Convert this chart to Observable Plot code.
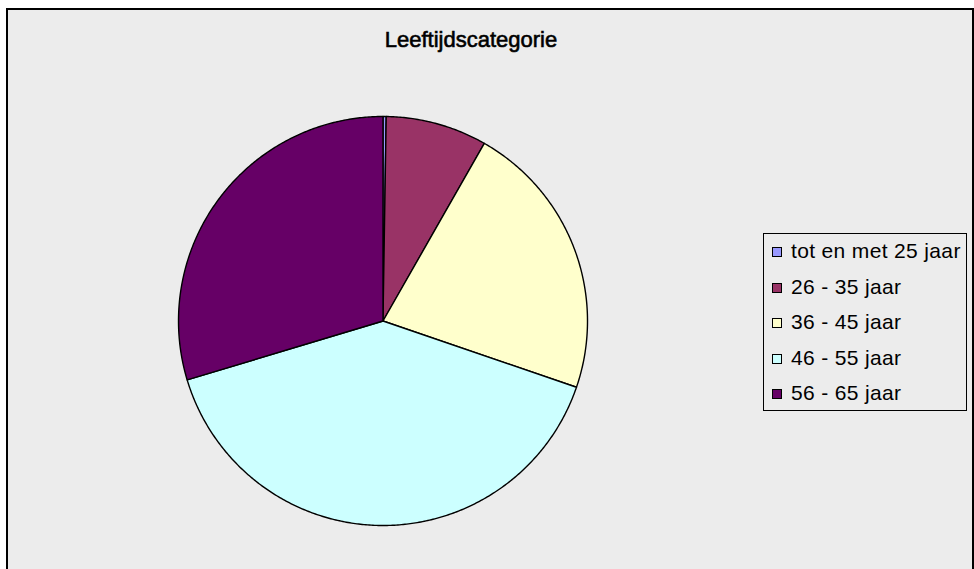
<!DOCTYPE html>
<html>
<head>
<meta charset="utf-8">
<script src="https://cdn.jsdelivr.net/npm/d3@7"></script>
<script src="https://cdn.jsdelivr.net/npm/@observablehq/plot@0.6"></script>
<style>
  html, body { margin: 0; padding: 0; background: #ffffff; width: 974px; height: 569px; overflow: hidden; }
  #frame { position: absolute; left: 6px; top: 8px; width: 968px; height: 600px; box-sizing: border-box;
           border: 2px solid #000; background: #ECECEC; }
  #title { position: absolute; left: 0; width: 942px; top: 27px; text-align: center;
           font-family: "Liberation Sans", Arial, sans-serif; font-weight: normal; font-size: 22px; color: #000;
           -webkit-text-stroke: 0.6px #000; }
  #chart { position: absolute; left: 0; top: 0; }
  #legend { position: absolute; left: 763px; top: 233px; width: 204px; height: 178px; box-sizing: border-box;
            border: 1px solid #000; background: #ECECEC;
            font-family: "Liberation Sans", Arial, sans-serif; font-size: 21px; letter-spacing: 0.35px; color: #000; }
  .row { position: absolute; left: 8px; height: 24px; line-height: 24px; white-space: nowrap; }
  .sw { display: inline-block; width: 10px; height: 10px; box-sizing: border-box; border: 1px solid #000;
        margin-right: 9px; vertical-align: 1px; }
</style>
</head>
<body>
<div id="frame"></div>
<div id="title">Leeftijdscategorie</div>
<div id="chart"></div>
<div id="legend"></div>
<script>
const categories = ["tot en met 25 jaar", "26 - 35 jaar", "36 - 45 jaar", "46 - 55 jaar", "56 - 65 jaar"];
const values = [0.25, 8.0, 22.0, 40.1, 29.65];
const colors = ["#9999FF", "#993366", "#FFFFCC", "#CCFFFF", "#660066"];

const cx = 382.5, cy = 320.5, r = 204.5;

const arcs = d3.pie().sort(null).startAngle(0).endAngle(2 * Math.PI)(values);
const pts = [];
arcs.forEach((a, i) => {
  const cat = categories[i];
  pts.push({cat, x: 0, y: 0});
  const n = Math.max(2, Math.ceil((a.endAngle - a.startAngle) / (Math.PI / 360)));
  for (let k = 0; k <= n; k++) {
    const t = a.startAngle + (a.endAngle - a.startAngle) * k / n;
    pts.push({cat, x: Math.sin(t), y: Math.cos(t)});
  }
});

const chart = Plot.plot({
  width: 974,
  height: 569,
  margin: 0,
  style: {background: "transparent"},
  x: {domain: [-1, 1], range: [cx - r, cx + r], axis: null},
  y: {domain: [-1, 1], range: [cy + r, cy - r], axis: null},
  color: {domain: categories, range: colors},
  marks: [
    Plot.line(pts, {x: "x", y: "y", z: "cat", fill: "cat", stroke: "#000", strokeWidth: 1.4,
                    curve: "linear-closed", strokeLinejoin: "round"})
  ]
});
document.getElementById("chart").appendChild(chart);

const legend = document.getElementById("legend");
const rowTop = [5, 41, 76, 112, 147];
categories.forEach((c, i) => {
  const row = document.createElement("div");
  row.className = "row";
  row.style.top = rowTop[i] + "px";
  const sw = document.createElement("span");
  sw.className = "sw";
  sw.style.background = colors[i];
  row.appendChild(sw);
  row.appendChild(document.createTextNode(c));
  legend.appendChild(row);
});
</script>
</body>
</html>
